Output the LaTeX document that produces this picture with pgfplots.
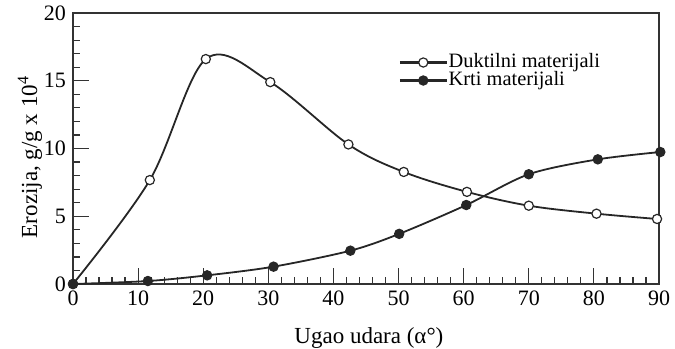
\documentclass[border=0pt]{standalone}
\usepackage{fontspec}
\setmainfont{Liberation Serif}
\usepackage{pgfplots}
\pgfplotsset{compat=1.18}
\usetikzlibrary{calc}
\begin{document}
\begin{tikzpicture}
\begin{axis}[
  scale only axis, width=293pt, height=135.5pt,
  xmin=0, xmax=90, ymin=0, ymax=20,
  xtick={0,10,...,90}, ytick={0,5,...,20},
  minor x tick num=4, minor y tick num=4,
  tick align=inside, tick pos=left,
  major tick length=8pt, minor tick length=3.5pt,
  axis line style={line width=0.6pt, black!80},
  every tick/.style={black!80, line width=0.6pt},
  /pgf/number format/assume math mode=true,
  tick label style={font=\fontsize{11}{13}\selectfont},
  xlabel={Ugao udara (α°)},
  ylabel={Erozija, g/g x 10\textsuperscript{4}},
  label style={font=\fontsize{11.5}{13}\selectfont},
  xlabel style={at={(axis description cs:0.505,-0.199)}, anchor=center},
  ylabel style={at={(axis description cs:-0.0734,0.469)}, anchor=center},
  clip=false,
  legend cell align=left,
  legend style={draw=none, fill=none, inner sep=0pt, row sep=0pt,
    at={(axis description cs:0.5546,0.852)}, anchor=north west,
    font=\fontsize{10.2}{11}\selectfont,
    nodes={inner sep=0.25pt, text height=6.5pt, text depth=2pt}},
  legend image code/.code={%
    \draw[#1, mark=none, line width=1.4pt] (0pt,0pt) -- (23.5pt,0pt);
    \draw[#1, line width=0.6pt] plot[only marks] coordinates {(11.75pt,0pt)};},
]
\addplot[smooth, tension=0.55, line width=0.9pt, black!85, mark=*, mark size=2.3pt,
  mark options={fill=white, draw=black!85, line width=0.6pt}]
  coordinates {(0,0) (11.8,7.67) (20.4,16.6) (30.3,14.9) (42.3,10.3) (50.8,8.27) (60.5,6.8) (70.0,5.78) (80.4,5.19) (89.7,4.8)};
\addlegendentry{Duktilni materijali}
\addplot[smooth, tension=0.5, line width=0.9pt, black!85, mark=*, mark size=2.3pt,
  mark options={fill=black!85, draw=black!85, line width=0.6pt}]
  coordinates {(0,0) (11.5,0.22) (20.6,0.64) (30.8,1.28) (42.6,2.46) (50.1,3.7) (60.4,5.83) (70.0,8.1) (80.6,9.2) (90.2,9.74)};
\addlegendentry{Krti materijali}
\end{axis}
\pgfresetboundingbox
\path ($(current axis.south west)+(-36.5pt,-32pt)$) rectangle ($(current axis.north east)+(8pt,6.5pt)$);
\end{tikzpicture}
\end{document}
